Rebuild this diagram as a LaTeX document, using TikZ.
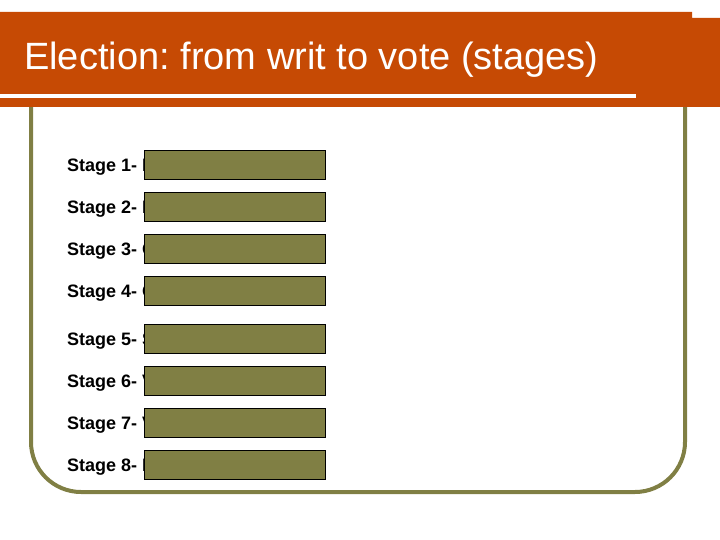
\documentclass[tikz,border=0pt]{standalone}
\usepackage{fontspec}
\setmainfont{Liberation Sans}
\frenchspacing
\definecolor{banner}{RGB}{198,74,4}
\definecolor{olive}{RGB}{128,127,68}
\tikzset{
  stagebox/.style={draw=black, line width=1pt, fill=olive, minimum width=181pt, minimum height=29pt, inner sep=0pt, anchor=north west},
  stagelabel/.style={anchor=base west, inner sep=0pt, font=\fontsize{18pt}{20pt}\selectfont\bfseries}
}
\begin{document}
\begin{tikzpicture}[x=1pt,y=-1pt]
\useasboundingbox (0,0) rectangle (720,540);
% frame
\draw[olive, line width=4pt, rounded corners=50pt] (31,60) -- (31,492) -- (685,492) -- (685,60);
% banner
\fill[banner] (0,12) -- (692,12) -- (692,18) -- (720,18) -- (720,107) -- (0,107) -- cycle;
\fill[white] (0,94) rectangle (636,98);
\node[anchor=base west, inner sep=0pt, text=white, font=\fontsize{38pt}{40pt}\selectfont] (title) at (24,70) {Election: from writ to vote (stages)};
% stages
\foreach \n/\y/\l in {1/150/I, 2/192/I, 3/234/C, 4/276/C, 5/324/S, 6/366/V, 7/408/V, 8/450/I} {
  \node[stagelabel] (lab\n) at (67,\y+21.5) {Stage \n- \l};
  \node[stagebox] (box\n) at (144,\y) {};
}
\end{tikzpicture}
\end{document}
